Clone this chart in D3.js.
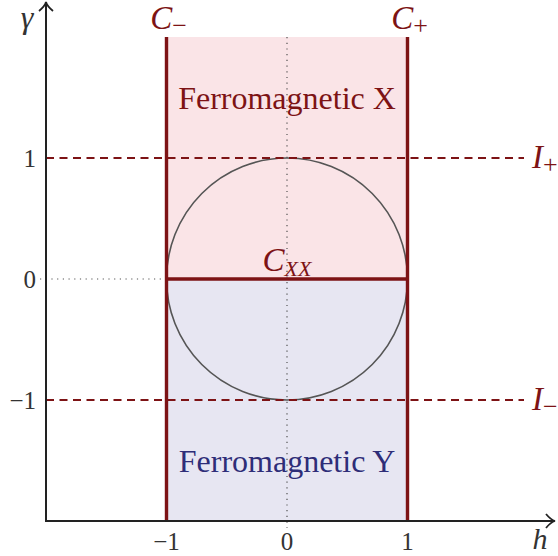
<!DOCTYPE html>
<html>
<head>
<meta charset="utf-8">
<script src="https://cdn.jsdelivr.net/npm/d3@7"></script>
<style>
  html, body { margin: 0; padding: 0; background: #fff; }
  svg text { font-family: "Liberation Serif", "Times New Roman", serif; }
</style>
</head>
<body>
<svg id="chart" width="558" height="556"></svg>
<script>
// Phase diagram of the XY chain in a transverse field: h (field) vs gamma (anisotropy)
const xTicks = [-1, 0, 1];
const yTicks = [-1, 0, 1];
const criticalH = [-1, 1];          // Ising critical lines C-, C+
const criticalHLabels = ["−", "+"];
const isingGamma = [1, -1];         // I+, I- reference lines
const isingLabels = ["+", "−"];
const circleRadius = [1];           // disorder circle h^2 + gamma^2 = 1
const xxGamma = [0];                // anisotropic transition line C_XX
const phases = [
  { name: "Ferromagnetic X", y0: 0, y1: 2, labelY: 1.5 },
  { name: "Ferromagnetic Y", y0: -2, y1: 0, labelY: -1.5 }
];

const red = "#7d1315";
const svg = d3.select("#chart");
const x = d3.scaleLinear().domain([-2, 2]).range([46, 528]);
const y = d3.scaleLinear().domain([-2, 2]).range([521, 37]);

// phase regions
const fills = ["#fae4e7", "#e7e6f2"];
svg.selectAll("rect.phase").data(phases).join("rect")
  .attr("class", "phase")
  .attr("x", x(criticalH[0]))
  .attr("width", x(criticalH[1]) - x(criticalH[0]))
  .attr("y", d => y(d.y1))
  .attr("height", d => y(d.y0) - y(d.y1))
  .attr("fill", (d, i) => fills[i]);

// dotted guides through the origin
svg.append("line")
  .attr("x1", x(0)).attr("x2", x(0))
  .attr("y1", y(2)).attr("y2", y(-2) + 7)
  .attr("stroke", "#444").attr("stroke-width", 1.1)
  .attr("stroke-dasharray", "1.2,4.5");
svg.append("line")
  .attr("x1", x(-2) - 6).attr("x2", x(-1))
  .attr("y1", y(0)).attr("y2", y(0))
  .attr("stroke", "#555").attr("stroke-width", 1.1)
  .attr("stroke-dasharray", "1.2,4.5");

// disorder circle
svg.selectAll("ellipse.circ").data(circleRadius).join("ellipse")
  .attr("cx", x(0)).attr("cy", y(0))
  .attr("rx", d => x(d) - x(0))
  .attr("ry", d => y(0) - y(d))
  .attr("fill", "none").attr("stroke", "#555").attr("stroke-width", 1.6);

// Ising lines
svg.selectAll("line.ising").data(isingGamma).join("line")
  .attr("class", "ising")
  .attr("x1", x(-2)).attr("x2", x(2) - 4)
  .attr("y1", d => y(d)).attr("y2", d => y(d))
  .attr("stroke", red).attr("stroke-width", 1.8)
  .attr("stroke-dasharray", "8,5.5");

// C_XX line
svg.selectAll("line.xx").data(xxGamma).join("line")
  .attr("x1", x(criticalH[0])).attr("x2", x(criticalH[1]))
  .attr("y1", d => y(d)).attr("y2", d => y(d))
  .attr("stroke", red).attr("stroke-width", 3.4);

// critical lines
svg.selectAll("line.crit").data(criticalH).join("line")
  .attr("x1", d => x(d)).attr("x2", d => x(d))
  .attr("y1", y(2)).attr("y2", y(-2))
  .attr("stroke", red).attr("stroke-width", 3.4);

// axes with open arrowheads
const axisColor = "#222";
svg.append("line").attr("x1", x(-2) - 1).attr("x2", 554)
  .attr("y1", y(-2)).attr("y2", y(-2))
  .attr("stroke", axisColor).attr("stroke-width", 2);
svg.append("line").attr("x1", x(-2)).attr("x2", x(-2))
  .attr("y1", y(-2) + 1).attr("y2", 3)
  .attr("stroke", axisColor).attr("stroke-width", 2);
const arrow = "M-9,-7 Q-4,-1 0,0 Q-4,1 -9,7";
svg.append("path").attr("d", arrow)
  .attr("transform", `translate(555,${y(-2)})`)
  .attr("fill", "none").attr("stroke", axisColor).attr("stroke-width", 1.8);
svg.append("path").attr("d", arrow)
  .attr("transform", `translate(${x(-2)},2) rotate(-90)`)
  .attr("fill", "none").attr("stroke", axisColor).attr("stroke-width", 1.8);

// tick labels
const fmt = v => v < 0 ? "−" + Math.abs(v) : String(v);
svg.selectAll("text.xt").data(xTicks).join("text")
  .attr("x", d => x(d)).attr("y", y(-2) + 29)
  .attr("text-anchor", "middle").attr("font-size", 25).attr("fill", "#333")
  .text(fmt);
svg.selectAll("text.yt").data(yTicks).join("text")
  .attr("x", x(-2) - 10).attr("y", d => y(d) + 9)
  .attr("text-anchor", "end").attr("font-size", 25).attr("fill", "#333")
  .text(fmt);

// axis titles
svg.append("text").attr("x", 27).attr("y", 28).attr("text-anchor", "middle")
  .attr("font-size", 32).attr("font-style", "italic").attr("fill", "#333").text("γ");
svg.append("text").attr("x", 540).attr("y", 549).attr("text-anchor", "middle")
  .attr("font-size", 30).attr("font-style", "italic").attr("fill", "#333").text("h");

// phase names
svg.selectAll("text.phase").data(phases).join("text")
  .attr("x", x(0)).attr("y", d => y(d.labelY) + 11)
  .attr("text-anchor", "middle").attr("font-size", 32)
  .attr("fill", (d, i) => i === 0 ? red : "#2e2d78")
  .text(d => d.name);

// C- and C+ labels
const cl = svg.selectAll("text.cl").data(criticalH).join("text")
  .attr("x", d => x(d) + 2).attr("y", 29)
  .attr("text-anchor", "middle").attr("font-size", 33).attr("fill", red);
cl.append("tspan").attr("font-style", "italic").text("C");
cl.append("tspan").attr("font-size", 26).attr("dy", 5).text((d, i) => criticalHLabels[i]);

// I+ and I- labels
const il = svg.selectAll("text.il").data(isingGamma).join("text")
  .attr("x", 532).attr("y", d => y(d) + 10)
  .attr("font-size", 33).attr("fill", red);
il.append("tspan").attr("font-style", "italic").text("I");
il.append("tspan").attr("font-size", 26).attr("dy", 5).text((d, i) => isingLabels[i]);

// C_XX label
const xl = svg.selectAll("text.xl").data(xxGamma).join("text")
  .attr("x", x(0)).attr("y", d => y(d) - 8)
  .attr("text-anchor", "middle").attr("font-size", 33).attr("fill", red);
xl.append("tspan").attr("font-style", "italic").text("C");
xl.append("tspan").attr("font-style", "italic").attr("font-size", 22).attr("dy", 5).text("XX");
</script>
</body>
</html>
